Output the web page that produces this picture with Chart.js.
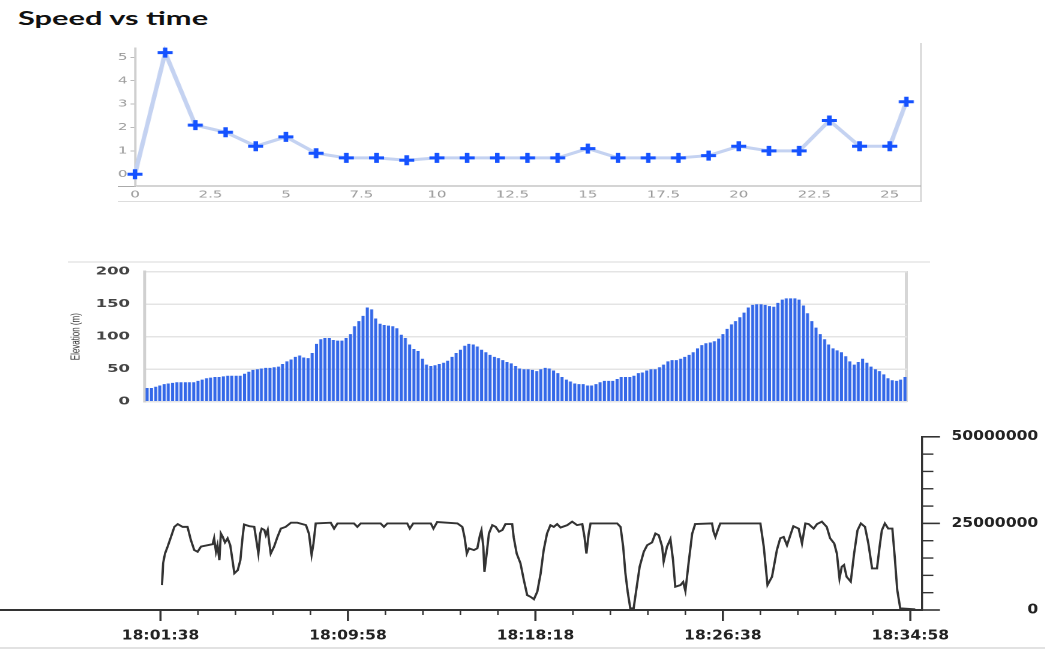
<!DOCTYPE html>
<html><head><meta charset="utf-8">
<script src="https://cdn.jsdelivr.net/npm/chart.js@4.4.1/dist/chart.umd.min.js"></script>
<style>
html,body{margin:0;padding:0;background:#fff;width:1045px;height:651px;overflow:hidden;position:relative}
.wrap{position:absolute;left:0;transform-origin:0 0}
.deco{position:absolute}
#title{position:absolute;left:18px;top:8px;font:700 19px Lato, sans-serif;color:#111;transform:scaleX(1.62);transform-origin:0 0;white-space:nowrap;line-height:19px}
</style></head><body>
<div id="title">Speed vs time</div>
<div class="deco" style="left:118px;top:43px;width:802px;height:158px;border-right:2px solid #ddd;border-bottom:1px solid #ddd"></div>
<div class="deco" style="left:118px;top:186px;width:18px;height:1px;background:#aaa"></div>
<div class="wrap" style="top:0;width:697px;height:215px;transform:scaleX(1.5)"><canvas id="speed"></canvas></div>

<div class="deco" style="left:68px;top:261px;width:862px;height:2px;background:#ececec"></div>
<div class="deco" style="left:905px;top:271px;width:3px;height:131px;background:#d6d6d6"></div>
<div class="wrap" style="top:255px;width:697px;height:164px;transform:scaleX(1.5)"><canvas id="elev"></canvas></div>

<div class="wrap" style="top:405px;width:871px;height:246px;transform:scaleX(1.2)"><canvas id="rate"></canvas></div>
<div class="deco" style="left:0;top:647px;width:1045px;height:2px;background:#e2e2e2"></div>

<script>
// ---- Speed vs time ----
const speedTime = [0,1,2,3,4,5,6,7,8,9,10,11,12,13,14,15,16,17,18,19,20,21,22,23,24,25,25.55];
const speedValues = [0,5.2,2.1,1.8,1.2,1.6,0.9,0.7,0.7,0.6,0.7,0.7,0.7,0.7,0.7,1.1,0.7,0.7,0.7,0.8,1.2,1.0,1.0,2.3,1.2,1.2,3.1];
const speedXTicks = [0,2.5,5,7.5,10,12.5,15,17.5,20,22.5,25];
const speedYTicks = [0,1,2,3,4,5];

// ---- Elevation ----
const elevation = [
21,21,23,25,27,28,29,30,30,30,
30,30,32,34,36,37,38,38,39,40,
40,40,40,43,46,49,50,51,52,52,
53,54,58,62,65,69,71,68,67,75,
89,96,98,98,95,94,94,98,104,116,
124,132,145,142,128,120,118,117,116,113,
103,98,88,81,78,66,57,55,56,58,
60,63,69,75,80,86,89,88,85,80,
76,72,69,67,64,61,59,55,51,50,
50,49,47,50,52,51,48,44,38,34,
31,28,27,27,25,25,27,30,32,32,
32,35,38,38,38,40,44,45,48,50,
50,53,57,62,64,64,66,69,72,76,
82,87,90,91,93,97,104,112,119,124,
130,137,145,149,150,150,149,147,146,152,
157,159,159,159,157,148,136,124,114,104,
96,88,82,79,76,70,62,57,61,66,
60,54,50,47,42,36,33,32,34,38];
const elevationTicks = [0,50,100,150,200];

// ---- Throughput vs clock time ----
const throughputStart = '18:01:38';
const throughputSeconds = [4,7,12,19,28,37,46,59,72,81,90,99,108,126,139,143,148,152,157,161,166,172,179,186,192,197,206,213,219,223,237,250,257,261,266,270,277,281,286,290,294,303,312,321,334,348,365,388,396,403,408,414,454,463,472,516,525,534,587,596,605,658,665,674,721,728,738,792,805,811,817,823,836,845,852,856,861,864,870,876,885,894,903,912,920,938,942,950,960,969,978,987,996,1005,1014,1022,1031,1040,1049,1058,1067,1085,1098,1111,1125,1131,1136,1142,1147,1218,1227,1234,1240,1246,1253,1262,1269,1278,1289,1298,1311,1320,1329,1338,1342,1351,1360,1367,1373,1387,1394,1400,1409,1418,1426,1471,1475,1480,1486,1493,1600,1609,1619,1631,1644,1653,1662,1671,1680,1688,1702,1711,1720,1729,1742,1751,1764,1777,1786,1797,1804,1811,1817,1823,1830,1841,1850,1859,1868,1879,1888,1898,1911,1918,1924,1932,1941,1952,1959,1965,1973,2013];
const throughputValues = [7200000,13500000,16300000,18300000,21100000,24000000,24800000,24000000,24000000,20200000,
17300000,16800000,18300000,18700000,19000000,20700000,16800000,18700000,14400000,22100000,
21100000,19500000,20700000,18700000,14400000,10600000,11500000,14400000,21100000,24700000,
24200000,24000000,19200000,16300000,22100000,23500000,23100000,21600000,23100000,19500000,
16300000,18300000,21100000,23500000,24000000,25200000,25200000,24500000,22000000,15900000,
19200000,25000000,25200000,23500000,25000000,25000000,24000000,25000000,25000000,24000000,
25000000,25000000,23500000,25000000,25000000,23500000,25400000,25000000,24000000,21000000,
16300000,17800000,17300000,17800000,21600000,23000000,18300000,11000000,16300000,22100000,
24500000,24000000,22600000,23100000,24800000,24800000,21000000,16300000,13500000,8700000,
4300000,3800000,3100000,5300000,10600000,17300000,22100000,24500000,24000000,24800000,
23800000,24500000,25500000,24500000,24800000,21000000,16300000,22000000,25000000,25000000,
24000000,18300000,10600000,5300000,500000,500000,5800000,12500000,16800000,18700000,
19500000,22100000,21600000,18300000,14000000,18300000,20500000,14400000,6700000,7200000,
8100000,5500000,14000000,22000000,24800000,25000000,22600000,21100000,23000000,25000000,
25000000,18300000,7200000,9600000,17300000,20700000,21100000,18700000,21600000,24200000,
23500000,19200000,25000000,24800000,23500000,24800000,25500000,24000000,20700000,19200000,
16300000,9100000,12500000,13000000,9600000,8200000,16300000,23000000,25000000,24000000,
19200000,12000000,12000000,18300000,23000000,25000000,23500000,23500000,14400000,5800000,
500000,200000];
const timeMajorTicks = [0,500,1000,1500,2000];
const timeMinorTicks = [100,200,300,400,600,700,800,900,1100,1200,1300,1400,1600,1700,1800,1900];
const rateMajorTicks = [0,25000000,50000000];
const rateMinorTicks = [5000000,10000000,15000000,20000000,30000000,35000000,40000000,45000000];

Chart.defaults.font.family = 'DejaVu Sans';
const common = {responsive:true, maintainAspectRatio:false, animation:false, devicePixelRatio:2, events:[],
  plugins:{legend:{display:false}, tooltip:{enabled:false}}};
const toTicks = arr => s => { s.ticks = arr.map(v => ({value:v})); };

// Chart 1
new Chart(document.getElementById('speed'), {
  type:'line',
  data:{datasets:[{
    data: speedTime.map((t,i) => ({x:t, y:speedValues[i]})),
    borderColor:'#c4d2f1', borderWidth:3, tension:0, clip:false,
    pointStyle:'cross', pointRadius:5, pointBorderWidth:3,
    pointBorderColor:'#1552ff', pointBackgroundColor:'#1552ff'
  }]},
  options:Object.assign({}, common, {
    layout:{padding:{left:0, top:48, right:83.7, bottom:9}},
    scales:{
      x:{type:'linear', min:0, max:26, afterBuildTicks:toTicks(speedXTicks), afterFit:s=>{s.height=20;},
         grid:{display:false, drawTicks:false}, border:{color:'#a8a8a8', width:1},
         ticks:{padding:3, color:'#9a9a9a', font:{size:10}, maxRotation:0, autoSkip:false}},
      y:{type:'linear', min:-0.5, max:5.4, afterBuildTicks:toTicks(speedYTicks), afterFit:s=>{s.width=90;},
         grid:{drawOnChartArea:false, tickLength:3, color:'#bbb'}, border:{color:'#cfcfcf', width:1.5},
         ticks:{padding:2, color:'#9a9a9a', font:{size:10}}}
    }
  })
});

// Chart 2
new Chart(document.getElementById('elev'), {
  type:'bar',
  data:{labels: elevation.map((_,i)=>i), datasets:[{data:elevation, backgroundColor:'#3468e8', barPercentage:0.72, categoryPercentage:1}]},
  options:Object.assign({}, common, {
    layout:{padding:{left:46, top:16.7, right:92.3, bottom:17.3}},
    scales:{
      x:{display:false},
      y:{min:0, max:200, afterBuildTicks:toTicks(elevationTicks), afterFit:s=>{s.width=50.7;},
         grid:{color:'#e4e4e4', lineWidth:1.5, drawTicks:false}, border:{color:'#d0d0d0', width:2},
         ticks:{padding:10, color:'#444', font:{size:11, weight:'bold'}},
         title:{display:true, text:'Elevation (m)', color:'#333', font:{family:'Liberation Sans', size:8}, padding:0}}
    }
  })
});

// Chart 3
const startSec = throughputStart.split(':').reduce((a,p)=>a*60+Number(p),0);
const clock = v => { const s = startSec + v; const p = n => String(n).padStart(2,'0');
  return p(Math.floor(s/3600)) + ':' + p(Math.floor(s%3600/60)) + ':' + p(s%60); };
const tickMarks = {
  id:'tickMarks',
  afterDraw(chart){
    const {ctx, scales:{x, y}} = chart;
    ctx.save();
    ctx.strokeStyle = '#333';
    const line = (x1,y1,x2,y2,w) => { ctx.lineWidth=w; ctx.beginPath(); ctx.moveTo(x1,y1); ctx.lineTo(x2,y2); ctx.stroke(); };
    timeMajorTicks.forEach(v => { const px = x.getPixelForValue(v); line(px, x.top, px, x.top+11, 1.8); });
    timeMinorTicks.forEach(v => { const px = x.getPixelForValue(v); line(px, x.top, px, x.top+5, 1.3); });
    rateMajorTicks.forEach(v => { const py = y.getPixelForValue(v); line(y.left, py, y.left+15, py, 1.6); });
    rateMinorTicks.forEach(v => { const py = y.getPixelForValue(v); line(y.left, py, y.left+9.5, py, 1.4); });
    ctx.restore();
  }
};
new Chart(document.getElementById('rate'), {
  type:'line',
  data:{datasets:[{
    data: throughputSeconds.map((t,i)=>({x:t, y:throughputValues[i]})),
    borderColor:'#333', borderWidth:1.9, pointRadius:0, tension:0
  }]},
  options:Object.assign({}, common, {
    layout:{padding:{left:0, top:31.8, right:5.8, bottom:0}},
    scales:{
      x:{type:'linear', min:-425, max:2031, afterBuildTicks:toTicks(timeMajorTicks), afterFit:s=>{s.height=41;},
         grid:{display:false, drawTicks:false}, border:{color:'#333', width:2},
         ticks:{padding:18.5, color:'#222', font:{size:13, weight:'bold'}, maxRotation:0, autoSkip:false, callback:v=>clock(v)}},
      y:{type:'linear', position:'right', min:0, max:50000000, afterBuildTicks:toTicks(rateMajorTicks), afterFit:s=>{s.width=96.9;},
         grid:{display:false, drawTicks:false}, border:{color:'#333', width:1.7},
         ticks:{padding:18, crossAlign:'far', color:'#222', font:{size:13, weight:'bold'}, callback:v=>String(v)}}
    }
  }),
  plugins:[tickMarks]
});
</script>
</body></html>
